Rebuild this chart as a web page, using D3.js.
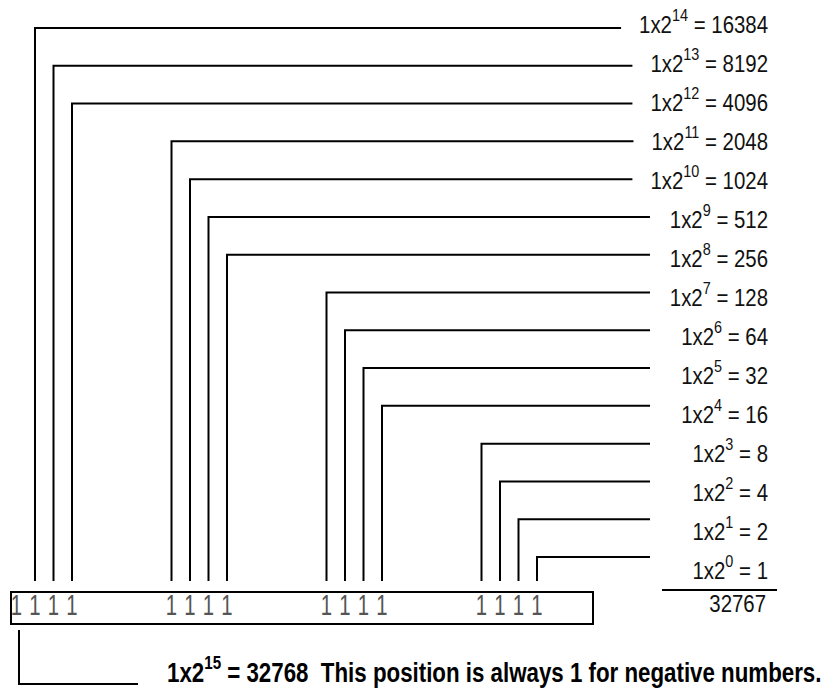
<!DOCTYPE html>
<html>
<head>
<meta charset="utf-8">
<script src="https://cdn.jsdelivr.net/npm/d3@7/dist/d3.min.js"></script>
<style>
  body { margin: 0; background: #fff; }
  svg { display: block; }
  .lbl { font-family: "Liberation Sans Narrow", "Liberation Sans", sans-serif; font-size: 24px; fill: #111; }
  .bit { font-family: "Liberation Sans Narrow", "Liberation Sans", sans-serif; font-size: 29px; fill: #555; }
  .note { font-family: "Liberation Sans Narrow", "Liberation Sans", sans-serif; font-size: 28px; font-weight: bold; fill: #000; }
  .wire { fill: none; stroke: #000; stroke-width: 2; }
</style>
</head>
<body>
<script>
// bit pattern shown in the box, most significant first (bit 15 .. bit 0)
var bits = [1, 1, 1, 1, 1, 1, 1, 1, 1, 1, 1, 1, 1, 1, 1, 1];
// place values for bits 14 .. 0
var exponents = [14, 13, 12, 11, 10, 9, 8, 7, 6, 5, 4, 3, 2, 1, 0];
var values = [16384, 8192, 4096, 2048, 1024, 512, 256, 128, 64, 32, 16, 8, 4, 2, 1];
var total = 32767;
// sign bit
var signExp = 15;
var signValue = 32768;
var signNote = "This position is always 1 for negative numbers.";

var width = 830, height = 691;
var squeeze = 0.85;   // no condensed face installed, so narrow the text by hand

var svg = d3.select("body").append("svg")
    .attr("width", width)
    .attr("height", height);

// x position of a bit: groups of four (index 0 = bit 15)
var groupX = d3.scaleLinear().domain([0, 3]).range([16.5, 481.5]);
var stepX = d3.scaleLinear().domain([0, 3]).range([0, 55.5]);
function bitX(i) { return groupX(Math.floor(i / 4)) + stepX(i % 4); }

// level of each connecting wire and baseline of each label
var yLine = d3.scaleLinear().domain([0, 14]).range([28, 557]);
var yLabel = d3.scaleLinear().domain([0, 14]).range([33, 579]);

var labelRight = 768;
var boxTop = 592, boxBottom = 624, boxLeft = 11, boxRight = 593;

// labels first so the wires can stop short of them
var labels = svg.selectAll("text.lbl")
  .data(exponents)
  .enter()
  .append("text")
  .attr("class", "lbl")
  .attr("transform", function(d, i) {
    return "translate(" + labelRight + "," + yLabel(i) + ") scale(" + squeeze + ",1)";
  })
  .attr("text-anchor", "end");

labels.append("tspan").text("1x2");
labels.append("tspan")
  .attr("dy", -12)
  .style("font-size", "17px")
  .text(function(d) { return d; });
labels.append("tspan")
  .attr("dy", 12)
  .text(function(d, i) { return (d == 11 ? "  = " : " = ") + values[i]; });

// wires from each bit up and across to its label
svg.selectAll("path.wire-bit")
  .data(exponents)
  .enter()
  .append("path")
  .attr("class", "wire wire-bit")
  .attr("d", function(d, i) {
    var x = bitX(i + 1);
    var y = yLine(i);
    var start = labelRight + labels.nodes()[i].getBBox().x * squeeze;
    var end = Math.min(start - 18, 650);
    return "M" + x + "," + (boxTop - 11) + "V" + y + "H" + end;
  });

// the sum line and total
svg.append("line")
  .attr("class", "wire")
  .attr("x1", 662).attr("x2", 777)
  .attr("y1", boxTop - 2).attr("y2", boxTop - 2);

svg.append("text")
  .attr("class", "lbl")
  .attr("transform", "translate(" + (labelRight - 2) + "," + (boxTop + 20) + ") scale(" + squeeze + ",1)")
  .attr("text-anchor", "end")
  .text(total);

// the box with the bits
svg.append("rect")
  .attr("class", "wire")
  .attr("x", boxLeft).attr("y", boxTop)
  .attr("width", boxRight - boxLeft)
  .attr("height", boxBottom - boxTop);

svg.selectAll("text.bit")
  .data(bits)
  .enter()
  .append("text")
  .attr("class", "bit")
  .attr("transform", function(d, i) {
    return "translate(" + bitX(i) + "," + (boxTop + 23) + ") scale(0.7,1)";
  })
  .attr("text-anchor", "middle")
  .text(function(d) { return d; });

// sign bit goes down and out to its note
svg.append("path")
  .attr("class", "wire")
  .attr("d", "M" + (bitX(0) + 2.5) + "," + (boxBottom + 6) + "V684H138");

var noteLeft = 167, noteRight = 822;
var note = svg.append("text")
  .attr("class", "note");

note.append("tspan").text("1x2");
note.append("tspan")
  .attr("dy", -13)
  .style("font-size", "19px")
  .text(signExp);
note.append("tspan")
  .attr("dy", 13)
  .text(" = " + signValue + "\u00a0 " + signNote);

// fit the note to the width it takes in the original
var noteW = note.node().getBBox().width;
note.attr("transform", "translate(" + noteLeft + ",682) scale(" + ((noteRight - noteLeft) / noteW) + ",1)");
</script>
</body>
</html>
